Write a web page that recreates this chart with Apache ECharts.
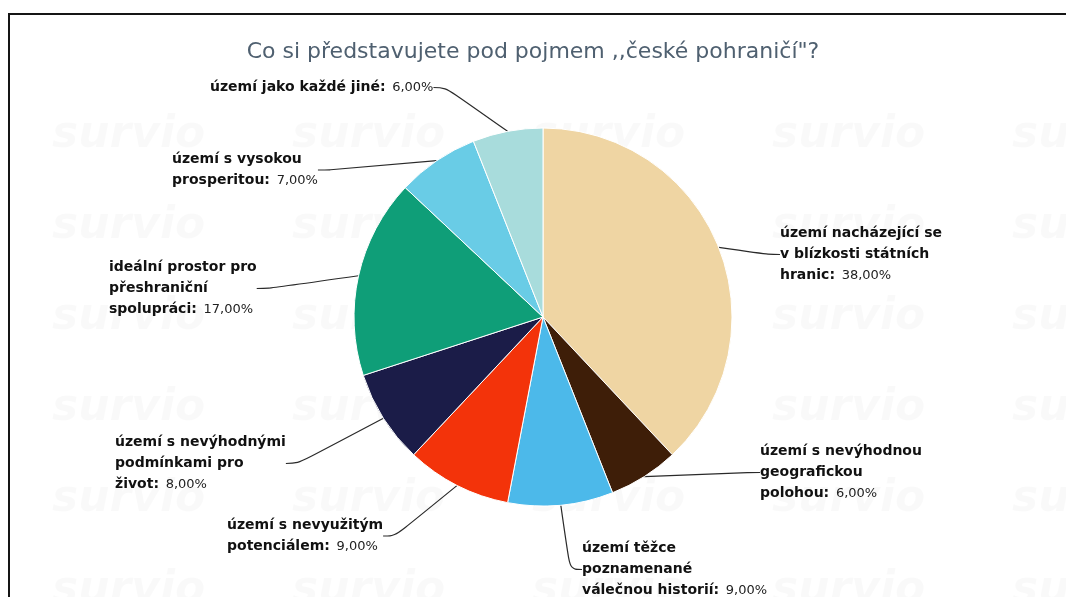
<!DOCTYPE html>
<html lang="cs">
<head>
    <meta charset="UTF-8">
    <title>Co si představujete pod pojmem ,,české pohraničí"?</title>
    <script src="https://cdn.jsdelivr.net/npm/echarts@6/dist/echarts.min.js"></script>
    <style>
        html, body { margin: 0; padding: 0; background: #fff; }
        #frame {
            position: absolute; left: 8px; top: 13px;
            width: 1100px; height: 700px;
            border: 2px solid #151515;
        }
        #chart { position: absolute; left: 0; top: 0; width: 1066px; height: 597px; }
    </style>
</head>
<body>
    <div id="frame"></div>
    <div id="chart"></div>
    <script>
        // odpovědi (pořadí po směru hodinových ručiček od 12 hodin)
        const answers = [
            'území nacházející se\nv blízkosti státních\nhranic',
            'území s nevýhodnou\ngeografickou\npolohou',
            'území těžce\npoznamenané\nválečnou historií',
            'území s nevyužitým\npotenciálem',
            'území s nevýhodnými\npodmínkami pro\nživot',
            'ideální prostor pro\npřeshraniční\nspolupráci',
            'území s vysokou\nprosperitou',
            'území jako každé jiné'
        ];
        const percents = [38, 6, 9, 9, 8, 17, 7, 6];
        const colors = ['#efd5a3', '#3e1e08', '#4cb9ea', '#f3330a', '#1b1c48', '#0f9e78', '#69cce6', '#a8dcdc'];

        // umístění popisků (levý horní roh textu)
        const labelPos = [
            [780, 223], [760, 441], [582, 538], [227, 515],
            [115, 432], [109, 257], [172, 149], [210, 77]
        ];

        const chart = echarts.init(document.getElementById('chart'));

        // vodoznak survio
        const watermark = [];
        for (let r = 0; r < 6; r++) {
            for (let c = 0; c < 5; c++) {
                watermark.push({
                    type: 'text',
                    left: 52 + c * 240,
                    top: 114 + r * 91,
                    silent: true,
                    z: -10,
                    style: {
                        text: 'survio',
                        font: 'italic bold 44px "DejaVu Sans"',
                        fill: 'rgba(0,0,0,0.022)'
                    }
                });
            }
        }

        const option = {
            animation: false,
            title: {
                text: 'Co si představujete pod pojmem ,,české pohraničí"?',
                left: 'center',
                top: 36,
                textStyle: {
                    fontFamily: 'DejaVu Sans',
                    fontWeight: 'normal',
                    fontSize: 22,
                    color: '#4f6070'
                }
            },
            graphic: watermark,
            series: [{
                type: 'pie',
                center: [543, 317],
                radius: 189,
                startAngle: 90,
                clockwise: true,
                itemStyle: { borderColor: '#fff', borderWidth: 1 },
                label: {
                    show: true,
                    formatter: p => '{b|' + p.name + ':}  {v|' + p.value.toFixed(2).replace('.', ',') + '%}',
                    rich: {
                        b: { fontFamily: 'DejaVu Sans', fontWeight: 'bold', fontSize: 14, color: '#111', lineHeight: 21 },
                        v: { fontFamily: 'DejaVu Sans', fontSize: 13, color: '#222', lineHeight: 21 }
                    }
                },
                labelLine: {
                    show: true,
                    smooth: 0.4,
                    length: 15,
                    length2: 12,
                    lineStyle: { color: '#2a2a2a', width: 1.2 }
                },
                labelLayout: params => ({
                    x: labelPos[params.dataIndex][0],
                    y: labelPos[params.dataIndex][1],
                    align: 'left',
                    verticalAlign: 'top'
                }),
                data: answers.map((a, i) => ({
                    name: a,
                    value: percents[i],
                    itemStyle: { color: colors[i] }
                }))
            }]
        };

        chart.setOption(option);
    </script>
</body>
</html>
